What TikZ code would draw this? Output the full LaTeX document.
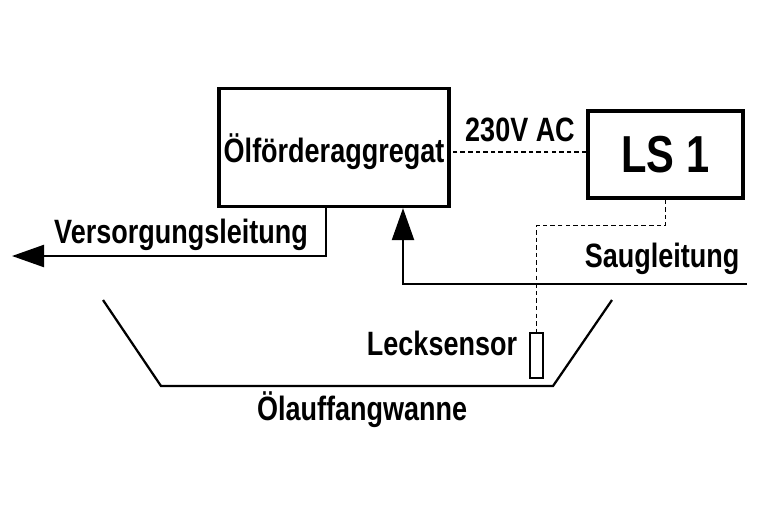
\documentclass[tikz,border=0pt]{standalone}
\usepackage{fontspec}
\setmainfont[FakeStretch=0.80]{Liberation Sans}
\usetikzlibrary{arrows.meta}
\tikzset{every picture/.style={line width=1.6pt}}

\begin{document}
\begin{tikzpicture}[x=0.025cm,y=-0.025cm,
  box/.style={draw,line width=2.2pt,inner sep=0pt,font=\fontsize{24}{28}\selectfont\bfseries},
  lbl/.style={font=\fontsize{24}{28}\selectfont\bfseries,inner sep=0pt,anchor=base},
  signal/.style={line width=1.2pt,dash pattern=on 3.2pt off 2.2pt},
  bigtip/.style={-{Triangle[length=0.8cm,width=0.55cm]}}]
\useasboundingbox (0,0) rectangle (760,515);
% boxes
\node[box,text depth=0pt,minimum width=5.75cm,minimum height=2.94cm] (aggregat) at (334,147.75) {Ölförderaggregat};
\node[box,minimum width=3.875cm,minimum height=2.175cm,font=\fontsize{37}{40}\selectfont\bfseries] (ls) at (665.5,154.5) {LS 1};
\node[draw,line width=1.9pt,inner sep=0pt,minimum width=0.325cm,minimum height=1.125cm] (sensor) at (536.5,355.5) {};
% labels
\node[lbl] (spannung) at (520,141) {230V AC};
\node[lbl] (versorgtext) at (181,243) {Versorgungsleitung};
\node[lbl] (saugtext) at (662,267) {Saugleitung};
\node[lbl] (lecktext) at (442,355) {Lecksensor};
\node[lbl] (wannetext) at (362,420) {Ölauffangwanne};
% signal lines
\draw[signal] ([yshift=2pt]ls.west) -- ([yshift=2pt]ls.west -| aggregat.east);
\draw[signal] (ls.south) -- ++(0,26) -| (sensor.north);
% pipes
\coordinate (vbend) at (326,256);
\coordinate (vend) at (12,256);
\draw[bigtip] (vbend |- aggregat.south) -- (vbend) -- (vend);
\coordinate (saug) at (747,284);
\coordinate (sbend) at (403,284);
\draw[bigtip] (saug) -- (sbend) -- (sbend |- aggregat.south);
% drip pan
\draw (103,300) -- (161,386) -- (553,386) -- (612,300);
\end{tikzpicture}
\end{document}
